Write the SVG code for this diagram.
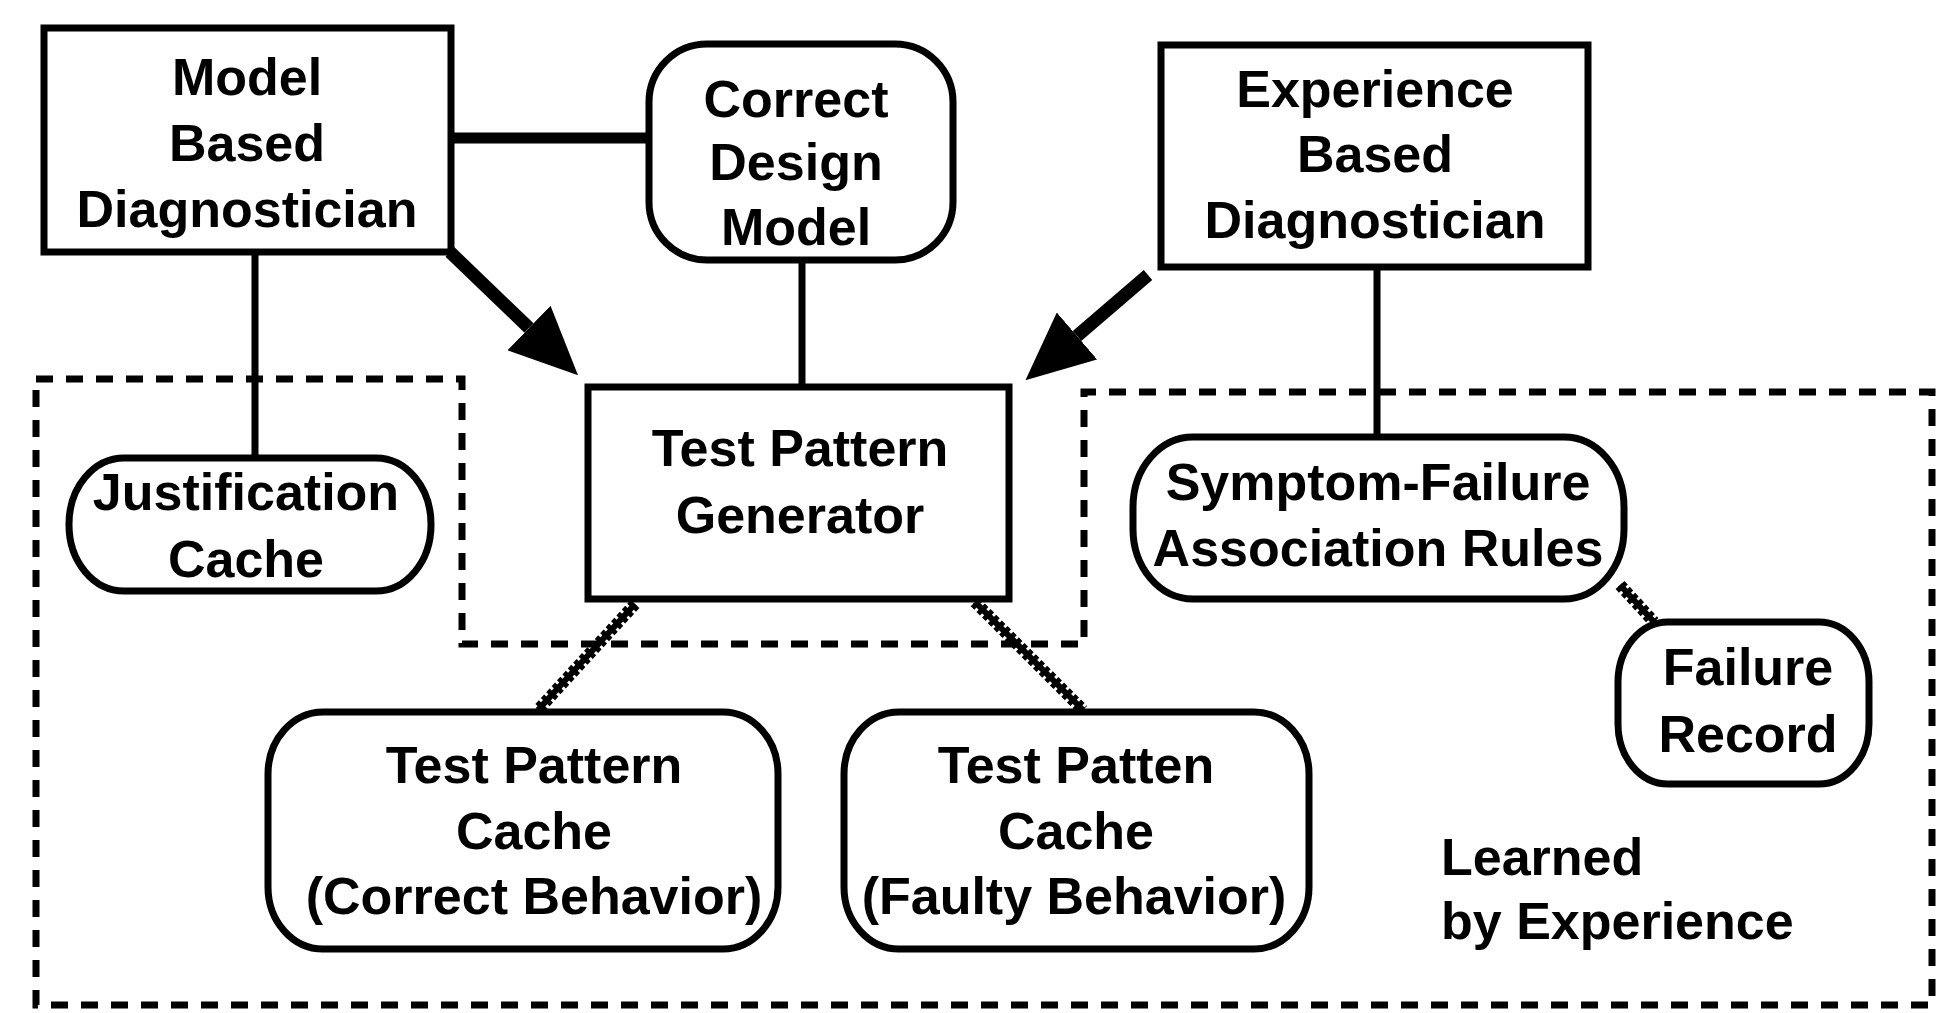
<svg xmlns="http://www.w3.org/2000/svg" width="1946" height="1013" viewBox="0 0 1946 1013">
<style>
.box{fill:#fff;stroke:#000;stroke-width:7}
.t{font-family:"Liberation Sans",Arial,sans-serif;font-weight:bold;font-size:52px;fill:#000;text-anchor:middle}
.tl{font-family:"Liberation Sans",Arial,sans-serif;font-weight:bold;font-size:52px;fill:#000;text-anchor:start}
.ln{stroke:#000;stroke-width:7;fill:none}
.thick{stroke:#000;stroke-width:11;fill:none}
.arr{stroke:#000;stroke-width:13;fill:none}
.hs{stroke:#000;stroke-width:6;fill:none}
.hd{stroke:#000;stroke-width:12;stroke-dasharray:5 3;fill:none}
.region{fill:none;stroke:#000;stroke-width:7;stroke-dasharray:17 13}
</style>
<defs>
<marker id="head" markerUnits="userSpaceOnUse" viewBox="0 0 68 62" refX="0" refY="31" markerWidth="68" markerHeight="62" orient="auto">
<path d="M0,0 L68,31 L0,62 Z" fill="#000"/>
</marker>
</defs>
<rect width="1946" height="1013" fill="#fff"/>

<g id="region-learned">
<path class="region" d="M36,379 L462,379 L462,644 L1084,644 L1084,392 L1932,392 L1932,1005 L36,1005 Z"/>
<text class="tl" x="1441" y="875">Learned</text>
<text class="tl" x="1441" y="939">by Experience</text>
</g>

<g id="connectors">
<line class="thick" x1="450" y1="138" x2="650" y2="138"/>
<line class="ln" x1="255" y1="252" x2="255" y2="458"/>
<line class="ln" x1="802" y1="260" x2="802" y2="386"/>
<line class="ln" x1="1377" y1="268" x2="1377" y2="437"/>
<path class="arr" d="M450,252 L529,328" marker-end="url(#head)"/>
<path class="arr" d="M1148,275 L1077,336" marker-end="url(#head)"/>
<g id="hatch1"><line class="hs" x1="635" y1="604" x2="538" y2="710"/><line class="hd" x1="635" y1="604" x2="538" y2="710"/></g>
<g id="hatch2"><line class="hs" x1="975" y1="602" x2="1083" y2="710"/><line class="hd" x1="975" y1="602" x2="1083" y2="710"/></g>
<g id="hatch3"><line class="hs" x1="1620" y1="585" x2="1654" y2="622"/><line class="hd" x1="1620" y1="585" x2="1654" y2="622"/></g>
</g>

<g id="model-based">
<rect class="box" x="44" y="28" width="407" height="224"/>
<text class="t" x="247" y="95">Model</text>
<text class="t" x="247" y="161">Based</text>
<text class="t" x="247" y="227">Diagnostician</text>
</g>

<g id="correct-design">
<rect class="box" x="649" y="44" width="304" height="216" rx="58" ry="58"/>
<text class="t" x="796" y="117">Correct</text>
<text class="t" x="796" y="180">Design</text>
<text class="t" x="796" y="245">Model</text>
</g>

<g id="experience-based">
<rect class="box" x="1161" y="45" width="427" height="222"/>
<text class="t" x="1375" y="107">Experience</text>
<text class="t" x="1375" y="172">Based</text>
<text class="t" x="1375" y="238">Diagnostician</text>
</g>

<g id="justification">
<rect class="box" x="69" y="458" width="362" height="133" rx="55" ry="66"/>
<text class="t" x="246" y="510">Justification</text>
<text class="t" x="246" y="577">Cache</text>
</g>

<g id="tpg">
<rect class="box" x="588" y="387" width="421" height="212"/>
<text class="t" x="800" y="466">Test Pattern</text>
<text class="t" x="800" y="533">Generator</text>
</g>

<g id="tpc-correct">
<rect class="box" x="268" y="712" width="510" height="237" rx="55" ry="62"/>
<text class="t" x="534" y="783">Test Pattern</text>
<text class="t" x="534" y="849">Cache</text>
<text class="t" x="534" y="914">(Correct Behavior)</text>
</g>

<g id="tpc-faulty">
<rect class="box" x="844" y="712" width="465" height="237" rx="55" ry="62"/>
<text class="t" x="1076" y="783">Test Patten</text>
<text class="t" x="1076" y="849">Cache</text>
<text class="t" x="1074" y="914">(Faulty Behavior)</text>
</g>

<g id="symptom-failure">
<rect class="box" x="1133" y="437" width="491" height="162" rx="60" ry="70"/>
<text class="t" x="1378" y="500">Symptom-Failure</text>
<text class="t" x="1378" y="566">Association Rules</text>
</g>

<g id="failure-record">
<rect class="box" x="1618" y="622" width="251" height="162" rx="50" ry="60"/>
<text class="t" x="1748" y="685">Failure</text>
<text class="t" x="1748" y="752">Record</text>
</g>
</svg>
